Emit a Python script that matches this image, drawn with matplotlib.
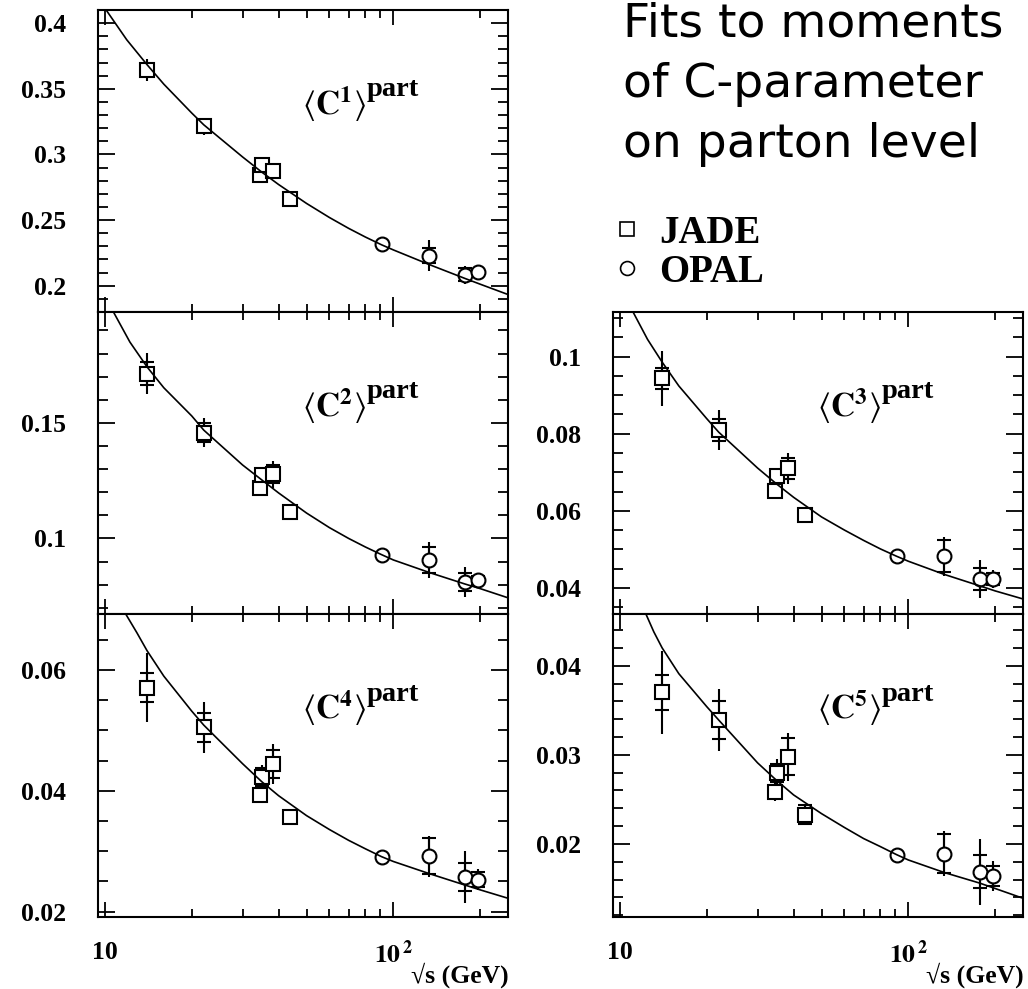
import matplotlib
matplotlib.use("Agg")
import matplotlib.pyplot as plt
from matplotlib.lines import Line2D
from matplotlib.font_manager import FontProperties
from matplotlib.ticker import FixedLocator, MultipleLocator, FormatStrFormatter, NullFormatter

plt.rcParams['mathtext.fontset'] = 'stix'
plt.rcParams['font.family'] = ['Liberation Serif', 'DejaVu Serif']

# ---------------- data ----------------
x_jade = [14.0, 22.0, 34.6, 35.0, 38.3, 43.8]
x_opal = [91.2, 133.0, 177.0, 197.0]

# <C^1>
c1_jade = [0.3645, 0.3213, 0.2840, 0.2916, 0.2871, 0.2661]
c1_jade_tot = [0.0085, 0.0067, 0.0030, 0.0030, 0.0040, 0.0030]
c1_jade_in = [0.0040, 0.0035, 0.0020, 0.0020, 0.0020, 0.0020]
c1_opal = [0.2318, 0.2229, 0.2085, 0.2102]
c1_opal_tot = [0.0010, 0.0120, 0.0068, 0.0030]
c1_opal_in = [0.0005, 0.0057, 0.0050, 0.0020]
c1_fit_x = [10.13, 11.9, 14.0, 16.0, 20.0, 22.0, 30.0, 35.0, 40.0, 50.0, 60.0, 70.0, 80.0, 91.0, 100.0, 133.0, 177.0, 200.0, 250.0]
c1_fit_y = [0.4095, 0.3873, 0.3683, 0.3535, 0.3315, 0.3226, 0.2981, 0.2865, 0.2771, 0.2627, 0.2520, 0.2437, 0.2371, 0.2312, 0.2273, 0.2162, 0.2056, 0.2012, 0.1933]

# <C^2>
c2_jade = [0.1713, 0.1458, 0.1219, 0.1274, 0.1278, 0.1115]
c2_jade_tot = [0.0088, 0.0063, 0.0030, 0.0030, 0.0058, 0.0030]
c2_jade_in = [0.0050, 0.0040, 0.0020, 0.0020, 0.0040, 0.0020]
c2_opal = [0.0930, 0.0906, 0.0812, 0.0822]
c2_opal_tot = [0.0010, 0.0079, 0.0065, 0.0020]
c2_opal_in = [0.0005, 0.0056, 0.0038, 0.0015]
c2_fit_x = [10.7, 12.2, 14.0, 16.0, 20.0, 22.0, 30.0, 35.0, 40.0, 50.0, 60.0, 70.0, 80.0, 91.0, 100.0, 133.0, 177.0, 200.0, 250.0]
c2_fit_y = [0.1980, 0.1850, 0.1742, 0.1652, 0.1530, 0.1469, 0.1318, 0.1253, 0.1197, 0.1110, 0.1047, 0.1000, 0.0963, 0.0930, 0.0907, 0.0853, 0.0803, 0.0783, 0.0743]

# <C^3>
c3_jade = [0.0944, 0.0809, 0.0651, 0.0690, 0.0710, 0.0588]
c3_jade_tot = [0.0071, 0.0052, 0.0015, 0.0020, 0.0040, 0.0015]
c3_jade_in = [0.0027, 0.0029, 0.0010, 0.0010, 0.0028, 0.0010]
c3_opal = [0.0482, 0.0482, 0.0423, 0.0423]
c3_opal_tot = [0.0005, 0.0051, 0.0050, 0.0024]
c3_opal_in = [0.0003, 0.0041, 0.0028, 0.0015]
c3_fit_x = [11.1, 12.46, 14.0, 16.0, 20.0, 22.0, 30.0, 35.0, 40.0, 50.0, 60.0, 70.0, 80.0, 91.0, 100.0, 133.0, 177.0, 200.0, 250.0]
c3_fit_y = [0.1116, 0.1045, 0.0986, 0.0924, 0.0839, 0.0804, 0.0711, 0.0669, 0.0635, 0.0584, 0.0550, 0.0523, 0.0501, 0.0482, 0.0469, 0.0435, 0.0405, 0.0392, 0.0371]

# <C^4>
c4_jade = [0.0571, 0.0505, 0.0393, 0.0423, 0.0444, 0.0356]
c4_jade_tot = [0.0057, 0.0043, 0.0012, 0.0020, 0.0033, 0.0012]
c4_jade_in = [0.0024, 0.0024, 0.0008, 0.0015, 0.0023, 0.0010]
c4_opal = [0.0291, 0.0292, 0.0257, 0.0253]
c4_opal_tot = [0.0003, 0.0034, 0.0043, 0.0017]
c4_opal_in = [0.0002, 0.0030, 0.0023, 0.0012]
c4_fit_x = [11.8, 12.9, 14.0, 16.0, 20.0, 22.0, 30.0, 35.0, 40.0, 50.0, 60.0, 70.0, 80.0, 91.0, 100.0, 133.0, 177.0, 200.0, 250.0]
c4_fit_y = [0.0693, 0.0662, 0.0632, 0.0590, 0.0532, 0.0509, 0.0445, 0.0415, 0.0392, 0.0359, 0.0336, 0.0318, 0.0304, 0.0291, 0.0283, 0.0263, 0.0244, 0.0236, 0.0222]

# <C^5>
c5_jade = [0.0370, 0.0339, 0.0258, 0.0280, 0.0298, 0.0233]
c5_jade_tot = [0.0047, 0.0035, 0.0010, 0.0015, 0.0027, 0.0012]
c5_jade_in = [0.0020, 0.0021, 0.0005, 0.0010, 0.0021, 0.0011]
c5_opal = [0.0188, 0.0189, 0.0169, 0.0164]
c5_opal_tot = [0.0002, 0.0025, 0.0037, 0.0017]
c5_opal_in = [0.0001, 0.0022, 0.0019, 0.0011]
c5_fit_x = [12.3, 13.1, 14.0, 16.0, 20.0, 22.0, 30.0, 35.0, 40.0, 50.0, 60.0, 70.0, 80.0, 91.0, 100.0, 133.0, 177.0, 200.0, 250.0]
c5_fit_y = [0.0458, 0.0438, 0.0420, 0.0391, 0.0354, 0.0339, 0.0291, 0.0271, 0.0255, 0.0234, 0.02185, 0.0206, 0.0197, 0.0188, 0.0182, 0.0168, 0.0156, 0.0150, 0.0139]

x_major_ticks = [10, 100]
x_minor_ticks = [20, 30, 40, 50, 60, 70, 80, 90, 200]
x_tick_labels = ['10', r'$\mathbf{10}^{\,\mathbf{2}}$']
x_axis_label = '√s (GeV)'

title_lines = ['Fits to moments', 'of C-parameter', 'on parton level']
legend_labels = ['JADE', 'OPAL']

# ---------------- figure ----------------
W, H = 1028, 989
fig = plt.figure(figsize=(W / 100, H / 100), dpi=100)


def fx(px):
    return px / W


def fy(py):
    return 1 - py / H


colL, colR, colW = 98.3, 613.3, 410
rows = [(10, 312), (312, 614), (614, 917)]

panels = [
    dict(pos=(colL, 0), n=1, ylim=(0.18, 0.41), major=0.05, minor=0.01, data=(c1_jade, c1_jade_tot, c1_jade_in, c1_opal, c1_opal_tot, c1_opal_in, c1_fit_x, c1_fit_y), bottom=False),
    dict(pos=(colL, 1), n=2, ylim=(0.0673, 0.198), major=0.05, minor=0.01, data=(c2_jade, c2_jade_tot, c2_jade_in, c2_opal, c2_opal_tot, c2_opal_in, c2_fit_x, c2_fit_y), bottom=False),
    dict(pos=(colL, 2), n=4, ylim=(0.0191, 0.0693), major=0.02, minor=0.005, data=(c4_jade, c4_jade_tot, c4_jade_in, c4_opal, c4_opal_tot, c4_opal_in, c4_fit_x, c4_fit_y), bottom=True),
    dict(pos=(colR, 1), n=3, ylim=(0.0332, 0.1116), major=0.02, minor=0.005, data=(c3_jade, c3_jade_tot, c3_jade_in, c3_opal, c3_opal_tot, c3_opal_in, c3_fit_x, c3_fit_y), bottom=False),
    dict(pos=(colR, 2), n=5, ylim=(0.0118, 0.0458), major=0.01, minor=0.002, data=(c5_jade, c5_jade_tot, c5_jade_in, c5_opal, c5_opal_tot, c5_opal_in, c5_fit_x, c5_fit_y), bottom=True),
]

tick_font = dict(family='Liberation Serif', weight='bold', size=18.5)

for p in panels:
    left, r = p['pos']
    top, bot = rows[r]
    ax = fig.add_axes([fx(left), fy(bot), fx(colW), (bot - top) / H])
    ax.set_xscale('log')
    ax.set_xlim(9.48, 250.5)
    ax.set_ylim(*p['ylim'])
    yj, ej_tot, ej_in, yo, eo_tot, eo_in, fit_x, fit_y = p['data']

    for xs, ys, et, ei, mk in [(x_jade, yj, ej_tot, ej_in, 's'), (x_opal, yo, eo_tot, eo_in, 'o')]:
        ax.errorbar(xs, ys, yerr=et, fmt='none', ecolor='black', elinewidth=1.5, capsize=0, zorder=2)
        ax.errorbar(xs, ys, yerr=ei, fmt='none', ecolor='black', elinewidth=1.5, capsize=5, capthick=1.5, zorder=2)
        ax.plot(xs, ys, ls='none', marker=mk, ms=10, mfc='white', mec='black', mew=1.5, zorder=3)
    ax.plot(fit_x, fit_y, color='black', lw=1.2, zorder=4, solid_joinstyle='round')

    ax.xaxis.set_major_locator(FixedLocator(x_major_ticks))
    ax.xaxis.set_minor_locator(FixedLocator(x_minor_ticks))
    ax.xaxis.set_minor_formatter(NullFormatter())
    if p['bottom']:
        ax.set_xticklabels(x_tick_labels, **tick_font)
        ax.text(1.0, -0.218, x_axis_label, transform=ax.transAxes,
                ha='right', va='baseline', **tick_font)
    else:
        ax.set_xticklabels([])
    ax.yaxis.set_major_locator(MultipleLocator(p['major']))
    ax.yaxis.set_minor_locator(MultipleLocator(p['minor']))
    ax.yaxis.set_major_formatter(FormatStrFormatter('%g'))
    for lab in ax.get_yticklabels():
        lab.set_fontproperties(FontProperties(**tick_font))

    ax.tick_params(which='both', direction='in', top=True, right=True, width=1.3)
    ax.tick_params(axis='y', which='major', length=12, pad=23)
    ax.tick_params(axis='y', which='minor', length=7)
    ax.tick_params(axis='x', which='major', length=11, pad=17)
    ax.tick_params(axis='x', which='minor', length=5.5)
    for s in ax.spines.values():
        s.set_linewidth(1.5)

    t1 = ax.text(0.497, 0.652, r'$\langle\mathbf{C}^{\mathbf{%d}}\rangle$' % p['n'],
                 transform=ax.transAxes, ha='left', va='baseline', fontsize=24)
    ax.annotate('part', xy=(1.0, 0.0), xycoords=t1, xytext=(0.5, 20), textcoords='offset points',
                ha='left', va='baseline', family='Liberation Serif', weight='bold', fontsize=20.5)

# title text
for i, line in enumerate(title_lines):
    fig.text(fx(623), fy(36.7 + 60 * i), line, family='DejaVu Sans', fontsize=34,
             ha='left', va='baseline')

handles = [Line2D([], [], ls='none', marker='s', ms=10, mfc='none', mec='black', mew=1.2),
           Line2D([], [], ls='none', marker='o', ms=10, mfc='none', mec='black', mew=1.2)]
fig.legend(handles, legend_labels, loc='upper left', bbox_to_anchor=(fx(611.7), fy(215)),
           frameon=False, borderpad=0, borderaxespad=0, labelspacing=0.04,
           handlelength=0.8, handletextpad=0.42,
           prop=dict(family='Liberation Serif', weight='bold', size=28))

fig.savefig('out.png', dpi=100)
